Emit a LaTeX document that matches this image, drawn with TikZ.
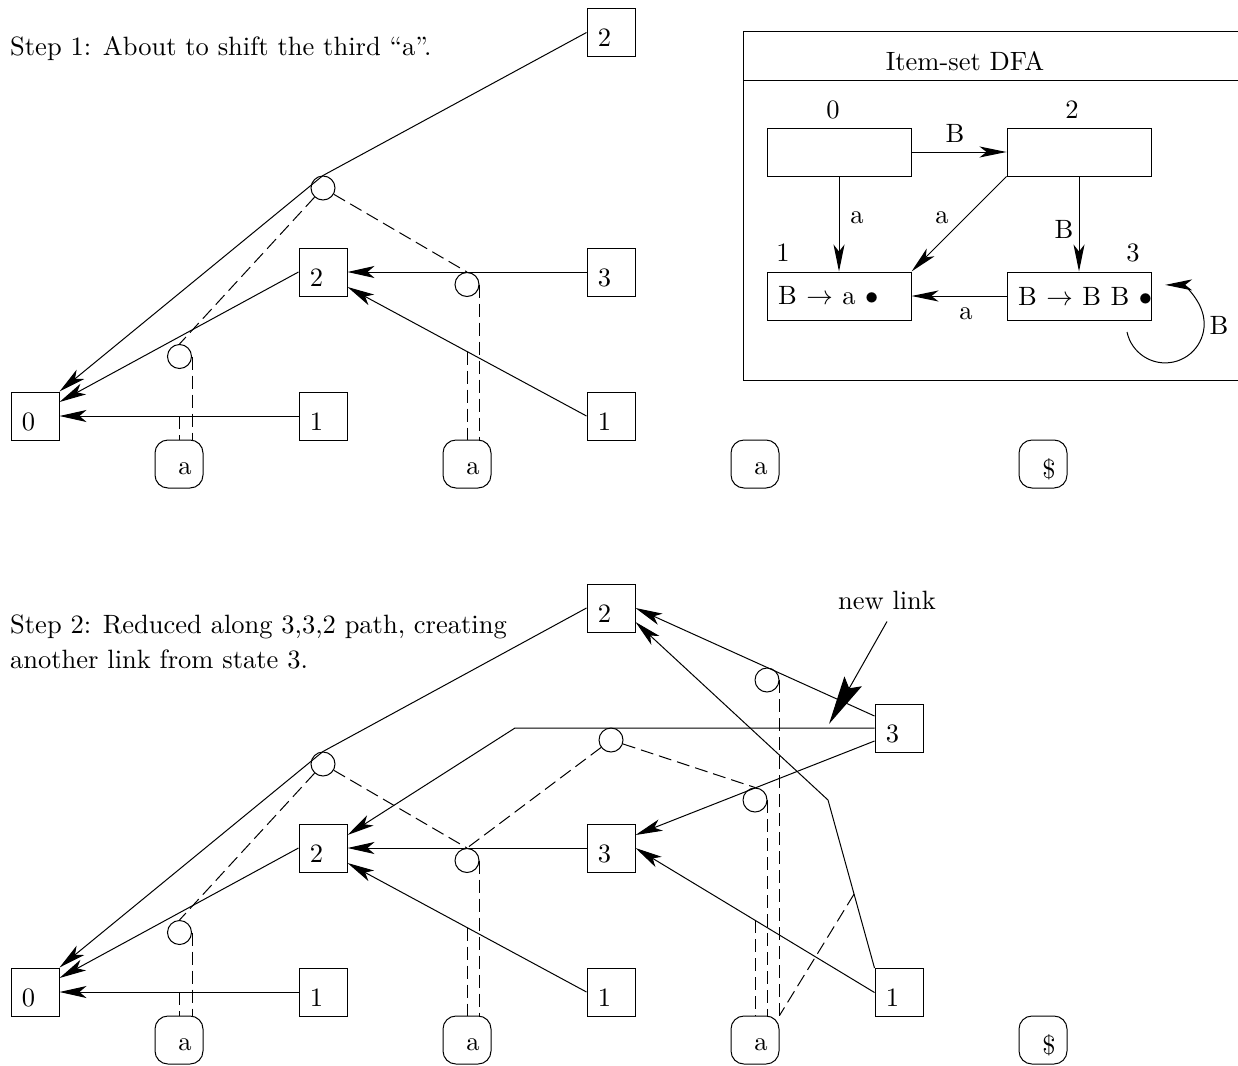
\RequirePackage{fix-cm}
\documentclass[tikz,border=0pt]{standalone}
\usetikzlibrary{arrows.meta,calc}
\DeclareFontFamily{TU}{lmrx}{}
\DeclareFontShape{TU}{lmrx}{m}{n}{<-> "[lmroman10-regular]:mapping=tex-text;"}{}
\newcommand\bigfont{\fontfamily{lmrx}\fontsize{26.5}{32}\selectfont}
\newcommand\boxlab[1]{\raisebox{-5.5pt}[\height][\depth]{#1}\kern13pt}
\newcommand\symlab[1]{\kern12pt\raisebox{-5pt}[\height][\depth]{#1}}
\newcommand\gap{\hspace{9.5pt}}
\begin{document}
\begin{tikzpicture}[x=1pt,y=1pt,yscale=-1,
  every node/.style={font=\bigfont, inner sep=0pt},
  stack/.style={draw, minimum size=48pt, line width=1pt},
  sym/.style={draw, rounded corners=13pt, minimum size=48pt, line width=1pt},
  sem/.style={draw, circle, minimum size=24pt, line width=1pt},
  link/.style={line width=1pt, -{Stealth[length=27pt,width=12pt,inset=7pt]}},
  ptr/.style={line width=1pt, dash pattern=on 13pt off 6pt},
  dstate/.style={draw, minimum width=144pt, minimum height=48pt, line width=1pt},
  tr/.style={line width=1pt, -{Stealth[length=27pt,width=11pt,inset=7pt]}},
  bigarr/.style={line width=1pt, -{Stealth[length=49pt,width=20pt,inset=8pt]}},
  frame/.style={line width=1pt}
]
\useasboundingbox (0,0) rectangle (1238,1065);

% ---------------- Step 1 ----------------
\node[anchor=base west] (s1) at (10,56) {Step 1: About to shift the third “a”.};

\node[stack] (T2a) at (611,32.5) {\boxlab{2}};
\node[stack] (M2a) at (323,272) {\boxlab{2}};
\node[stack] (M3a) at (611,272) {\boxlab{3}};
\node[stack] (B0a) at (35,416) {\boxlab{0}};
\node[stack] (L1a) at (323,416) {\boxlab{1}};
\node[stack] (R1a) at (611,416) {\boxlab{1}};
\node[sem] (C1a) at (323,188) {};
\node[sem] (C2a) at (179.5,356.5) {};
\node[sem] (C3a) at (467,284.5) {};
\node[sym] (A1a) at (179,464) {\symlab{a}};
\node[sym] (A2a) at (467,464) {\symlab{a}};
\node[sym] (A3a) at (755,464) {\symlab{a}};
\node[sym] (A4a) at (1043,464) {\symlab{\$}};

\draw[link] (T2a.west) -- (C1a.north) -- (B0a.north east);
\draw[link] (M2a.west) -- ($(B0a.east)+(0,-14)$);
\draw[link] (L1a.west) -- coordinate[pos=.5] (e1a) (B0a.east);
\draw[link] (M3a.west) -- (M2a.east);
\draw[link] (R1a.west) -- coordinate[pos=.5] (e2a) ($(M2a.east)+(0,15)$);

\draw[ptr] (C1a) -- (C2a.north);
\draw[ptr] (C1a) -- (C3a.north);
\draw[ptr] (C2a.east) -- (C2a.east |- A1a.north);
\draw[ptr] (e1a) -- (e1a |- A1a.north);
\draw[ptr] (C3a.east) -- (C3a.east |- A2a.north);
\draw[ptr] (e2a) -- (e2a |- A2a.north);

% ---------------- Item-set DFA ----------------
\draw[frame] (1238,32) -- (743,32) -- (743,380) -- (1238,380);
\draw[frame] (743,80) -- (1238,80);
\node (dfat) at (965,61) {Item-set DFA};

\node[dstate] (d0) at (839,152) {};
\node[dstate] (d2) at (1079,152) {};
\node[dstate] (d1) at (839,296) {\makebox[122pt][l]{B\gap$\rightarrow$\gap a\gap$\bullet$}};
\node[dstate] (d3) at (1079,296) {\makebox[122pt][l]{B\gap$\rightarrow$\gap B\gap B\gap$\bullet$}};
\node (n0) at (833,110) {0};
\node (n2) at (1072,110) {2};
\node (n1) at (783,253) {1};
\node (n3) at (1133,253) {3};

\draw[tr] (d0) -- (d2);
\draw[tr] (d0) -- (d1);
\draw[tr] (d2.south west) -- (d1.north east);
\draw[tr] (d2) -- (d3);
\draw[tr] (d3) -- (d1);
\coordinate (lp) at (1127,332);
\draw[tr] (lp) arc[start angle=168, end angle=-90, radius=39];

\node (tB1) at (955,133) {B};
\node (ta1) at (857,218) {a};
\node (ta2) at (942,218) {a};
\node (tB2) at (1064,229) {B};
\node (ta3) at (966,314) {a};
\node (tB3) at (1219,325) {B};

% ---------------- Step 2 ----------------
\node[anchor=base west] (s2a) at (10,633) {Step 2: Reduced along 3,3,2 path, creating};
\node[anchor=base west] (s2b) at (10,668) {another link from state 3.};

\node[stack] (T2b) at (611,608) {\boxlab{2}};
\node[stack] (M2b) at (323,848) {\boxlab{2}};
\node[stack] (M3b) at (611,848) {\boxlab{3}};
\node[stack] (B3R) at (899,728) {\boxlab{3}};
\node[stack] (B0b) at (35,992) {\boxlab{0}};
\node[stack] (L1b) at (323,992) {\boxlab{1}};
\node[stack] (R1b) at (611,992) {\boxlab{1}};
\node[stack] (B1R) at (899,992.5) {\boxlab{1}};
\node[sem] (C1b) at (323,764) {};
\node[sem] (C2b) at (179.5,932.5) {};
\node[sem] (C3b) at (467,860.5) {};
\node[sem] (C4) at (611,740) {};
\node[sem] (C5) at (755,800) {};
\node[sem] (C6) at (767,680) {};
\node[sym] (A1b) at (179,1040) {\symlab{a}};
\node[sym] (A2b) at (467,1040) {\symlab{a}};
\node[sym] (A3b) at (755,1040) {\symlab{a}};
\node[sym] (A4b) at (1043,1040) {\symlab{\$}};

\coordinate (nlbend) at (515,728);
\coordinate (bend) at (828,800);

\draw[link] (T2b.west) -- (C1b.north) -- (B0b.north east);
\draw[link] (M2b.west) -- ($(B0b.east)+(0,-14)$);
\draw[link] (L1b.west) -- coordinate[pos=.5] (e1b) (B0b.east);
\draw[link] (M3b.west) -- (M2b.east);
\draw[link] (R1b.west) -- coordinate[pos=.5] (e2b) ($(M2b.east)+(0,15)$);
\draw[link] (B3R.west) -- (nlbend) -- ($(M2b.east)+(0,-13)$);
\draw[link] ($(B3R.west)+(0,-12)$) -- (T2b.east);
\draw[link] ($(B3R.west)+(0,13)$) -- ($(M3b.east)+(0,-13)$);
\draw[link] (B1R.west) -- coordinate[pos=.5] (e3b) (M3b.east);
\draw[link] (B1R.north west) -- coordinate[pos=.44] (e4b) (bend) -- ($(T2b.east)+(0,14)$);

\draw[ptr] (C1b) -- (C2b.north);
\draw[ptr] (C1b) -- (C3b.north);
\draw[ptr] (C4) -- (C3b.north);
\draw[ptr] (C4) -- (C5.north);
\draw[ptr] (C2b.east) -- (C2b.east |- A1b.north);
\draw[ptr] (e1b) -- (e1b |- A1b.north);
\draw[ptr] (C3b.east) -- (C3b.east |- A2b.north);
\draw[ptr] (e2b) -- (e2b |- A2b.north);
\draw[ptr] (e3b) -- (e3b |- A3b.north);
\draw[ptr] (C5.east) -- (C5.east |- A3b.north);
\draw[ptr] (C6.east) -- (C6.east |- A3b.north);
\draw[ptr] (e4b) -- (A3b.north east);

\node[anchor=base, inner sep=12pt] (nl) at (887,609) {new link};
\coordinate (nltip) at (829,724);
\draw[bigarr] (nl.south) -- (nltip);
\end{tikzpicture}
\end{document}
